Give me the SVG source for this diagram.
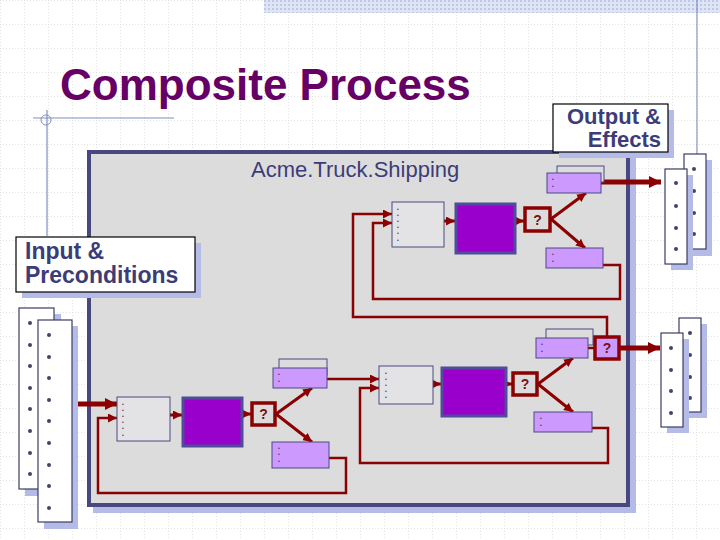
<svg xmlns="http://www.w3.org/2000/svg" width="720" height="540" viewBox="0 0 720 540">
<defs>
<pattern id="grid" x="0" y="0" width="24" height="24" patternUnits="userSpaceOnUse">
<path d="M0,0 H24 M0,0 V24" stroke="#c9c9c9" stroke-width="1" stroke-dasharray="1,2" fill="none"/>
</pattern>
<pattern id="hatch" x="0" y="0" width="4" height="4" patternUnits="userSpaceOnUse">
<rect width="4" height="4" fill="#dfe5f4"/>
<rect width="2" height="2" fill="#bcc8e6"/>
</pattern>
<marker id="ah" viewBox="0 0 10 10" refX="10" refY="5" markerWidth="9" markerHeight="9" markerUnits="userSpaceOnUse" orient="auto"><path d="M0,0 L10,5 L0,10 z" fill="#8b0000"/></marker>
<marker id="ahb" viewBox="0 0 10 10" refX="10" refY="5" markerWidth="13" markerHeight="12" markerUnits="userSpaceOnUse" orient="auto"><path d="M0,0 L10,5 L0,10 z" fill="#8b0000"/></marker>
</defs>
<style>
.shadow{fill:#b3bbe6}
.panel{fill:#ffffff;stroke:#3c3c64;stroke-width:1.2}
.dot{fill:#44446a}
.inbox{fill:#e3e3e6;stroke:#4a4a82;stroke-width:1}
.proc{fill:#9900cc;stroke:#4d4d99;stroke-width:3}
.out{fill:#cc99ff;stroke:#4a4a82;stroke-width:1}
.back{fill:#dcdcdc;stroke:#4a4a82;stroke-width:1}
.q{fill:#dcdcdc;stroke:#8b0000;stroke-width:3.5}
.qt{font-family:"Liberation Sans",Arial,sans-serif;font-weight:bold;font-size:14px;fill:#7a1010;text-anchor:middle}
.tiny{font-family:"Liberation Sans",Arial,sans-serif;font-size:5px;fill:#333366}
.lbl{font-family:"Liberation Sans",Arial,sans-serif;font-weight:bold;font-size:22px;fill:#3c3c78}
.c{fill:none;stroke:#8b0000;stroke-width:2.5}
.cd{fill:none;stroke:#8b0000;stroke-width:3}
.ct{fill:none;stroke:#8b0000;stroke-width:5}
</style>
<rect width="720" height="540" fill="#ffffff"/>
<rect width="720" height="540" fill="url(#grid)"/>
<rect x="264" y="0" width="456" height="13" fill="url(#hatch)"/>
<line x1="697" y1="0" x2="697" y2="154" stroke="#7080b8" stroke-width="1"/>
<line x1="33" y1="118" x2="174" y2="118" stroke="#8090c0" stroke-width="1.2"/>
<line x1="47" y1="110" x2="47" y2="236" stroke="#8090c0" stroke-width="1.2"/>
<circle cx="46" cy="120" r="5" fill="none" stroke="#8090c0" stroke-width="1"/>
<text x="60" y="100" font-family="'Liberation Sans',Arial,sans-serif" font-weight="bold" font-size="44" fill="#660066">Composite Process</text>

<g id="frame">
<rect x="93" y="156" width="543" height="357" class="shadow"/>
<rect x="89" y="152" width="539" height="353" fill="#dcdcdc" stroke="#484880" stroke-width="4"/>
<text x="251" y="177" font-family="'Liberation Sans',Arial,sans-serif" font-size="22" fill="#3c3c78">Acme.Truck.Shipping</text>
</g>

<g id="output-effects">
<rect x="559" y="110" width="115" height="48" class="shadow"/>
<rect x="553" y="104" width="115" height="48" fill="#ffffff" stroke="#000000" stroke-width="1.2"/>
<text x="661" y="124" class="lbl" text-anchor="end">Output &amp;</text>
<text x="661" y="147" class="lbl" text-anchor="end">Effects</text>
</g>

<g id="input-preconditions">
<rect x="22" y="243" width="179" height="55" class="shadow"/>
<rect x="16" y="237" width="179" height="55" fill="#ffffff" stroke="#000000" stroke-width="1.2"/>
<text x="25" y="259" class="lbl" style="font-size:23px">Input &amp;</text>
<text x="25" y="283" class="lbl" style="font-size:23px">Preconditions</text>
</g>

<g id="input-panels">
<rect x="25" y="314" width="36" height="182" class="shadow"/>
<rect x="19" y="308" width="35" height="181" class="panel"/>
<g class="dot"><circle cx="30" cy="323" r="2"/><circle cx="30" cy="345" r="2"/><circle cx="30" cy="366" r="2"/><circle cx="30" cy="388" r="2"/><circle cx="30" cy="409" r="2"/><circle cx="30" cy="431" r="2"/><circle cx="30" cy="453" r="2"/><circle cx="30" cy="474" r="2"/></g>
<rect x="44" y="326" width="34" height="203" class="shadow"/>
<rect x="38" y="320" width="34" height="202" class="panel"/>
<g class="dot"><circle cx="49" cy="335" r="2"/><circle cx="49" cy="357" r="2"/><circle cx="49" cy="378" r="2"/><circle cx="49" cy="400" r="2"/><circle cx="49" cy="421" r="2"/><circle cx="49" cy="443" r="2"/><circle cx="49" cy="465" r="2"/><circle cx="49" cy="486" r="2"/><circle cx="49" cy="508" r="2"/></g>
</g>

<g id="output-panels-top">
<rect x="690" y="160" width="22" height="96" class="shadow"/>
<rect x="684" y="154" width="22" height="95" class="panel"/>
<g class="dot"><circle cx="694" cy="169" r="2"/><circle cx="694" cy="191" r="2"/><circle cx="694" cy="213" r="2"/><circle cx="694" cy="234" r="2"/></g>
<rect x="671" y="175" width="22" height="95" class="shadow"/>
<rect x="665" y="169" width="22" height="95" class="panel"/>
<g class="dot"><circle cx="676" cy="183" r="2"/><circle cx="676" cy="206" r="2"/><circle cx="676" cy="228" r="2"/><circle cx="676" cy="249" r="2"/></g>
</g>

<g id="output-panels-bottom">
<rect x="685" y="324" width="22" height="94" class="shadow"/>
<rect x="679" y="318" width="22" height="94" class="panel"/>
<g class="dot"><circle cx="690" cy="333" r="2"/><circle cx="690" cy="355" r="2"/><circle cx="690" cy="377" r="2"/><circle cx="690" cy="398" r="2"/></g>
<rect x="667" y="339" width="22" height="94" class="shadow"/>
<rect x="661" y="333" width="22" height="94" class="panel"/>
<g class="dot"><circle cx="671" cy="348" r="2"/><circle cx="671" cy="370" r="2"/><circle cx="671" cy="391" r="2"/><circle cx="671" cy="413" r="2"/></g>
</g>

<g id="connectors">
<path class="ct" d="M78,404 H117" marker-end="url(#ahb)"/>
<path class="c" d="M329,458 H346 V493 H98 V418 H117" marker-end="url(#ah)"/>
<path class="cd" d="M170,415 H182" marker-end="url(#ah)"/>
<path class="cd" d="M243,414 H251" marker-end="url(#ah)"/>
<path class="cd" d="M276,414 L312,388" marker-end="url(#ah)"/>
<path class="cd" d="M276,414 L312,442" marker-end="url(#ah)"/>
<path class="c" d="M327,379 H379" marker-end="url(#ah)"/>
<path class="c" d="M592,428 H608 V463 H360 V388 H379" marker-end="url(#ah)"/>
<path class="cd" d="M433,384 H441" marker-end="url(#ah)"/>
<path class="cd" d="M507,384 H512" marker-end="url(#ah)"/>
<path class="cd" d="M538,384 L573,358" marker-end="url(#ah)"/>
<path class="cd" d="M538,384 L573,412" marker-end="url(#ah)"/>
<path class="c" d="M588,348 H594"/>
<path class="ct" d="M620,348 H660" marker-end="url(#ahb)"/>
<path class="c" d="M607,336 V317 H353 V214 H392" marker-end="url(#ah)"/>
<path class="c" d="M603,265 H620 V299 H373 V223 H392" marker-end="url(#ah)"/>
<path class="cd" d="M444,221 H455" marker-end="url(#ah)"/>
<path class="cd" d="M516,221 H524" marker-end="url(#ah)"/>
<path class="cd" d="M551,219 L586,193" marker-end="url(#ah)"/>
<path class="cd" d="M551,219 L585,248" marker-end="url(#ah)"/>
<path class="ct" d="M601,182 H661" marker-end="url(#ahb)"/>
</g>

<g id="bl-input">
<rect x="117" y="397" width="53" height="44" class="inbox"/>
<text class="tiny"><tspan x="122" y="406">•</tspan><tspan x="122" y="412">•</tspan><tspan x="122" y="418">•</tspan><tspan x="122" y="424">•</tspan><tspan x="122" y="430">•</tspan><tspan x="122" y="437">•</tspan></text>
</g>
<g id="bl-process"><rect x="183" y="398" width="59" height="48" class="proc"/></g>
<g id="bl-choice"><rect x="252" y="403" width="23" height="22" class="q"/><text x="263.5" y="419" class="qt">?</text></g>
<g id="bl-out1">
<rect x="279" y="359" width="48" height="16" class="back"/>
<rect x="273" y="368" width="54" height="20" class="out"/>
<text class="tiny"><tspan x="278" y="376">•</tspan><tspan x="278" y="383">•</tspan></text>
</g>
<g id="bl-out2">
<rect x="272" y="442" width="57" height="26" class="out"/>
<text class="tiny"><tspan x="278" y="450">•</tspan><tspan x="278" y="456">•</tspan><tspan x="278" y="463">•</tspan></text>
</g>

<g id="mid-input">
<rect x="379" y="366" width="54" height="38" class="inbox"/>
<text class="tiny"><tspan x="385" y="375">•</tspan><tspan x="385" y="381">•</tspan><tspan x="385" y="387">•</tspan><tspan x="385" y="393">•</tspan><tspan x="385" y="399">•</tspan></text>
</g>
<g id="mid-process"><rect x="442" y="368" width="64" height="48" class="proc"/></g>
<g id="mid-choice"><rect x="513" y="373" width="24" height="22" class="q"/><text x="525" y="389" class="qt">?</text></g>
<g id="mid-out1">
<rect x="546" y="329" width="47" height="16" class="back"/>
<rect x="536" y="338" width="52" height="20" class="out"/>
<text class="tiny"><tspan x="541" y="346">•</tspan><tspan x="541" y="353">•</tspan></text>
</g>
<g id="mid-out2">
<rect x="534" y="412" width="58" height="20" class="out"/>
<text class="tiny"><tspan x="540" y="420">•</tspan><tspan x="540" y="427">•</tspan></text>
</g>
<g id="br-choice"><rect x="595" y="337" width="24" height="22" style="fill:#cc99ff;stroke:#8b0000;stroke-width:3.5"/><text x="607" y="353" class="qt">?</text></g>

<g id="top-input">
<rect x="392" y="202" width="52" height="45" class="inbox"/>
<text class="tiny"><tspan x="397" y="211">•</tspan><tspan x="397" y="217">•</tspan><tspan x="397" y="223">•</tspan><tspan x="397" y="229">•</tspan><tspan x="397" y="235">•</tspan><tspan x="397" y="242">•</tspan></text>
</g>
<g id="top-process"><rect x="456" y="204" width="59" height="49" class="proc"/></g>
<g id="top-choice"><rect x="525" y="208" width="25" height="23" class="q"/><text x="537.5" y="225" class="qt">?</text></g>
<g id="top-out1">
<rect x="557" y="166" width="47" height="16" class="back"/>
<rect x="547" y="173" width="54" height="20" class="out"/>
<text class="tiny"><tspan x="552" y="181">•</tspan><tspan x="552" y="188">•</tspan></text>
</g>
<g id="top-out2">
<rect x="546" y="248" width="57" height="20" class="out"/>
<text class="tiny"><tspan x="552" y="256">•</tspan><tspan x="552" y="263">•</tspan></text>
</g>
</svg>
